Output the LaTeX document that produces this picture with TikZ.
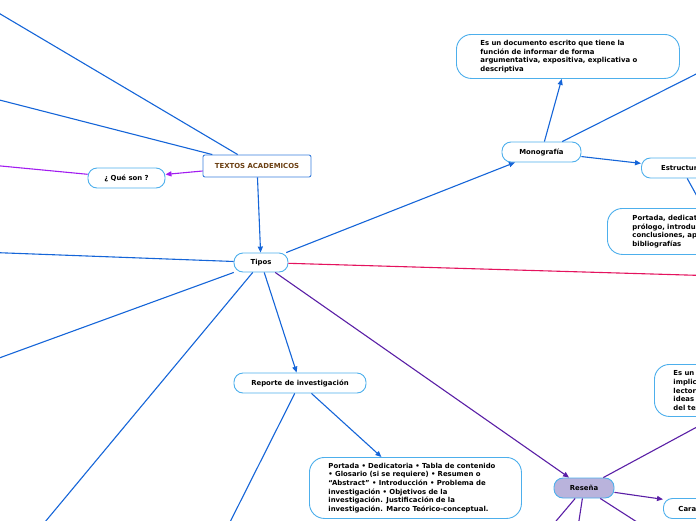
\documentclass[tikz,border=0pt]{standalone}
\usepackage{fontspec}
\setmainfont{DejaVu Sans}
\usetikzlibrary{arrows.meta}
\definecolor{linkblue}{HTML}{1565D8}
\definecolor{boxblue}{HTML}{4DAFEC}
\definecolor{headblue}{HTML}{3A7FDD}
\definecolor{titlebrown}{HTML}{6B3F12}
\definecolor{askviolet}{HTML}{A21CF0}
\definecolor{typecrimson}{HTML}{E4135E}
\definecolor{reviewindigo}{HTML}{5A1FA6}
\definecolor{reviewfill}{HTML}{B9B3DC}
\begin{document}
\begin{tikzpicture}[x=1pt,y=-1pt,
  every node/.style={font=\fontsize{6.9}{8.7}\selectfont\bfseries},
  topic/.style={draw=boxblue,line width=0.9pt,rounded corners=9pt,fill=white,minimum height=20pt,inner sep=0pt},
  note/.style={draw=boxblue,line width=0.9pt,rounded corners=15pt,fill=white,align=left,inner ysep=2pt},
  link/.style={line width=1.1pt},
  arrowed/.style={-{Triangle[length=6pt,width=5pt]}}]
	\useasboundingbox (0,0) rectangle (696,520);
	\clip (0,0) rectangle (696,520);
	\node[draw=headblue,line width=0.9pt,rounded corners=2pt,fill=white,minimum width=108pt,minimum height=22pt,text=titlebrown] (textos) at (257,166) {TEXTOS ACADEMICOS};
	\node[topic,minimum width=77pt] (queson) at (126.5,178) {¿ Qué son ?};
	\node[topic,minimum width=54pt,minimum height=19pt] (tipos) at (261,262.5) {Tipos};
	\node[topic,minimum width=79pt] (mono) at (541.5,152) {Monografía};
	\node[topic,anchor=west,minimum width=80pt] (estructura) at (641,168) {Estructura};
	\node[topic,minimum width=132pt] (reporte) at (300,383) {Reporte de investigación};
	\node[topic,minimum width=60pt,fill=reviewfill] (resena) at (584,488) {Reseña};
	\node[topic,anchor=west,text width=98pt,align=left,inner xsep=15pt] (caract) at (663,508.5) {Características};
	\node[note,anchor=north west,text width=175pt,inner xsep=24pt,minimum height=44pt] (docdef) at (456,34) {Es un documento escrito que tiene la\\función de informar de forma\\argumentativa, expositiva, explicativa o\\descriptiva};
	\node[note,anchor=north west,text width=168pt,inner xsep=25pt,minimum height=46pt] (partes) at (607,208) {Portada, dedicatoria, índice,\\prólogo, introducción, desarrollo,\\conclusiones, apéndices, anexos,\\bibliografías};
	\node[note,anchor=north west,text width=174pt,inner xsep=19pt,minimum height=61pt] (contenido) at (309,457) {Portada • Dedicatoria • Tabla de contenido\\• Glosario (si se requiere) • Resumen o\\“Abstract” • Introducción • Problema de\\investigación • Objetivos de la\\investigación. Justificación de la\\investigación. Marco Teórico-conceptual.};
	\node[note,anchor=north west,text width=182pt,inner xsep=19pt,minimum height=52pt] (resdef) at (654,364) {Es un escrito breve que\\implica una evaluación\\lectora y crítica de las\\ideas principales\\del texto reseñado.};
	\coordinate (farA) at (-20,2);
	\coordinate (farB) at (-20,95);
	\coordinate (farC) at (-20,164);
	\coordinate (farD) at (-20,252);
	\coordinate (farE) at (-20,365);
	\coordinate (farF) at (30,540);
	\coordinate (farG) at (720,276);
	\coordinate (farH) at (221,540);
	\coordinate (farI) at (720,62);
	\coordinate (farJ) at (540,540);
	\coordinate (farK) at (576,540);
	\coordinate (farL) at (665,540);
	\draw[link,linkblue] (textos) -- (farA);
	\draw[link,linkblue] (textos) -- (farB);
	\draw[link,linkblue,arrowed] (textos) -- (tipos);
	\draw[link,askviolet,arrowed] (textos) -- (queson);
	\draw[link,askviolet] (queson) -- (farC);
	\draw[link,linkblue] (tipos) -- (farD);
	\draw[link,linkblue] (tipos) -- (farE);
	\draw[link,linkblue] (tipos) -- (farF);
	\draw[link,linkblue,arrowed] (tipos) -- (mono);
	\draw[link,linkblue,arrowed] (tipos) -- (reporte);
	\draw[link,typecrimson] (tipos) -- (farG);
	\draw[link,reviewindigo,arrowed] (tipos) -- (resena);
	\draw[link,linkblue] (reporte) -- (farH);
	\draw[link,linkblue,arrowed] (reporte) -- (contenido);
	\draw[link,linkblue,arrowed] (mono) -- (docdef);
	\draw[link,linkblue] (mono) -- (farI);
	\draw[link,linkblue,arrowed] (mono) -- (estructura);
	\draw[link,linkblue,arrowed] (estructura) -- (partes);
	\draw[link,reviewindigo,arrowed] (resena) -- (resdef);
	\draw[link,reviewindigo,arrowed] (resena) -- (caract);
	\draw[link,reviewindigo] (resena) -- (farJ);
	\draw[link,reviewindigo] (resena) -- (farK);
	\draw[link,reviewindigo] (resena) -- (farL);
\end{tikzpicture}
\end{document}
